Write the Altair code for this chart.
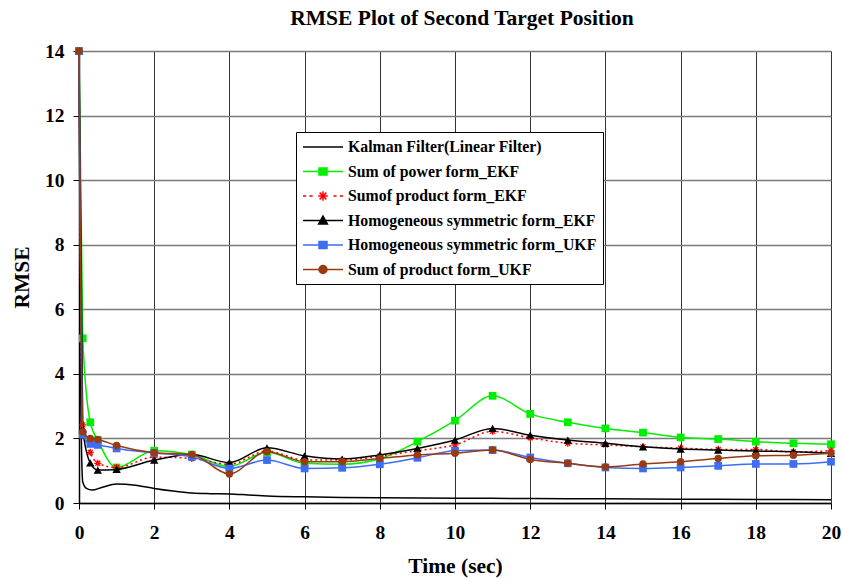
import altair as alt
import pandas as pd

# ---------------- data ----------------
x_marks = [0, 0.1, 0.3, 0.5, 1, 2, 3, 4, 5, 6, 7, 8, 9, 10, 11, 12, 13, 14, 15, 16, 17, 18, 19, 20]

sum_power_ekf = [14, 5.1, 2.5, 1.95, 1.1, 1.62, 1.5, 1.13, 1.57, 1.23, 1.2, 1.37, 1.9, 2.55, 3.32, 2.76, 2.5, 2.31, 2.18, 2.03, 1.98, 1.9, 1.85, 1.82]
sum_product_ekf = [14, 2.42, 1.57, 1.23, 1.1, 1.42, 1.38, 1.2, 1.61, 1.33, 1.33, 1.45, 1.62, 1.8, 2.22, 2.02, 1.85, 1.8, 1.74, 1.7, 1.66, 1.66, 1.58, 1.62]
homog_ekf = [14, 2.3, 1.24, 1.02, 1.04, 1.33, 1.5, 1.25, 1.71, 1.46, 1.36, 1.49, 1.69, 1.95, 2.31, 2.1, 1.95, 1.85, 1.74, 1.67, 1.64, 1.61, 1.59, 1.54]
homog_ukf = [14, 2.12, 1.83, 1.8, 1.69, 1.55, 1.43, 1.07, 1.33, 1.07, 1.09, 1.2, 1.4, 1.62, 1.64, 1.41, 1.23, 1.1, 1.07, 1.1, 1.15, 1.21, 1.21, 1.28]
sum_product_ukf = [14, 2.2, 2.0, 1.97, 1.78, 1.56, 1.5, 0.9, 1.59, 1.28, 1.28, 1.38, 1.49, 1.54, 1.64, 1.35, 1.23, 1.12, 1.21, 1.28, 1.38, 1.46, 1.48, 1.54]

kalman_x = [0, 0.05, 0.1, 0.2, 0.35, 0.6, 1, 1.5, 2, 2.5, 3, 3.5, 4, 4.5, 5, 6, 7, 8, 10, 12, 14, 16, 18, 20]
kalman_y = [14, 3.0, 0.65, 0.45, 0.4, 0.48, 0.59, 0.55, 0.45, 0.37, 0.31, 0.29, 0.28, 0.25, 0.22, 0.19, 0.17, 0.16, 0.15, 0.14, 0.13, 0.12, 0.11, 0.1]

names = [
    "Kalman Filter(Linear Filter)",
    "Sum of power form_EKF",
    "Sumof product form_EKF",
    "Homogeneous symmetric form_EKF",
    "Homogeneous symmetric form_UKF",
    "Sum of product form_UKF",
]
colors = ["#000000", "#00EE00", "#FF0000", "#000000", "#3D6EF2", "#993A10"]

x_ticks = list(range(0, 21, 2))
y_ticks = list(range(0, 15, 2))

# ---------------- styling ----------------
FONT = "Liberation Serif"

star_path = "M-1,0H1M0,-1V1M-0.7,-0.7L0.7,0.7M-0.7,0.7L0.7,-0.7"

# legend symbols: line from -1 to 4 (units), marker centred at 1.5
leg_paths = [
    "M-1,0H4",
    "M-1,0H4M1,-0.45H2V0.45H1Z",
    "M-1,0H-0.6M-0.2,0H0.2M2.8,0H3.2M3.6,0H4M0.9,0H2.1M1.5,-0.6V0.6M1.08,-0.42L1.92,0.42M1.08,0.42L1.92,-0.42",
    "M-1,0H4M1.5,-0.55L2.05,0.45H0.95Z",
    "M-1,0H4M1,-0.45H2V0.45H1Z",
    "M-1,0H4M1,0A0.5,0.5 0 1,0 2,0A0.5,0.5 0 1,0 1,0Z",
]

X = alt.X(
    "x:Q",
    scale=alt.Scale(domain=[0, 20], nice=False, zero=False),
    axis=alt.Axis(
        values=x_ticks, title="Time (sec)", grid=True, gridColor="#333333", gridWidth=1,
        tickSize=6, tickColor="#000000", domainColor="#000000", domainWidth=1.5,
        labelFont=FONT, labelFontSize=19.5, labelFontWeight="bold", labelColor="#000000",
        labelPadding=14, labelFlush=False,
        titleFont=FONT, titleFontSize=21.5, titleFontWeight="bold", titleColor="#000000",
        titleY=63, titleBaseline="middle",
    ),
)
Y = alt.Y(
    "y:Q",
    scale=alt.Scale(domain=[0, 14], nice=False, zero=False),
    axis=alt.Axis(
        values=y_ticks, title="RMSE", grid=True, gridColor="#7a7a7a", gridWidth=1.5,
        tickSize=6, tickColor="#000000", domainColor="#000000", domainWidth=1.5,
        labelFont=FONT, labelFontSize=19.5, labelFontWeight="bold", labelColor="#000000",
        labelPadding=9, labelFlush=False,
        titleFont=FONT, titleFontSize=21.5, titleFontWeight="bold", titleColor="#000000",
        titleX=-57, titleY=226, titleBaseline="middle", titleAlign="center", titleAngle=270,
    ),
)

series = [
    (kalman_x, kalman_y, colors[0], None, None, None),
    (x_marks, sum_power_ekf, colors[1], "square", 60, None),
    (x_marks, sum_product_ekf, colors[2], star_path, 50, [2, 3]),
    (x_marks, homog_ekf, colors[3], "triangle-up", 70, None),
    (x_marks, homog_ukf, colors[4], "square", 60, None),
    (x_marks, sum_product_ukf, colors[5], "circle", 55, None),
]

layers = []
for i, (xs, ys, col, shp, sz, dash) in enumerate(series):
    df = pd.DataFrame({"x": xs, "y": ys})
    lk = dict(color=col, strokeWidth=1.5, interpolate="monotone", clip=False)
    if dash:
        lk["strokeDash"] = dash
    layers.append(alt.Chart(df).mark_line(**lk).encode(x=X, y=Y))
    if shp:
        if shp == star_path:
            pm = alt.Chart(df).mark_point(shape=shp, size=sz, filled=False, stroke=col,
                                          strokeWidth=1.3, opacity=1, clip=False)
        else:
            pm = alt.Chart(df).mark_point(shape=shp, size=sz, filled=True, fill=col,
                                          opacity=1, clip=False)
        layers.append(pm.encode(x=X, y=Y))

# legend-only layer (no visible marks)
leg_df = pd.DataFrame({"x": [0] * len(names), "y": [0] * len(names), "series": names})
legend = alt.Legend(
    title=None, orient="none", legendX=217, legendY=81,
    labelFont=FONT, labelFontSize=15.8, labelFontWeight="bold", labelColor="#000000",
    labelLimit=500, symbolSize=256, symbolStrokeWidth=1.5, labelOffset=28,
    padding=6, rowPadding=7.5, strokeColor="#000000", fillColor="#ffffff",
    symbolOpacity=1,
)
leg_layer = (
    alt.Chart(leg_df)
    .transform_filter("datum.y > 100")
    .mark_point(filled=False, size=256, opacity=1, strokeWidth=1.5)
    .encode(
        x=X, y=Y,
        color=alt.Color("series:N", scale=alt.Scale(domain=names, range=colors), legend=legend),
        fill=alt.Fill("series:N", scale=alt.Scale(domain=names, range=colors), legend=legend),
        shape=alt.Shape("series:N", scale=alt.Scale(domain=names, range=leg_paths), legend=legend),
    )
)
layers.append(leg_layer)

chart = (
    alt.layer(*layers)
    .properties(
        width=752, height=452,
        padding={"left": 79, "top": 51, "right": 12, "bottom": 76},
        autosize=alt.AutoSizeParams(type="none"),
        title=alt.TitleParams("RMSE Plot of Second Target Position", font=FONT, fontSize=21.5,
                              fontWeight="bold", color="#000000", anchor="middle", dx=7, offset=12),
        background="#ffffff",
    )
    .configure_view(stroke=None)
)

chart.save("out.html", embed_options={"renderer": "svg", "actions": False})
